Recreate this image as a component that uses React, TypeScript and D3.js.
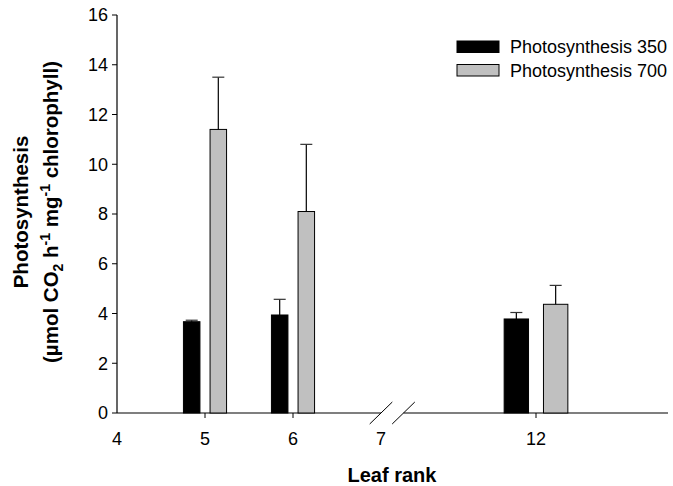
import * as d3 from 'd3'

const W = 673
const H = 486
const FONT = 'Liberation Sans, Arial, sans-serif'

// leaf ranks that carry bars, and the axis tick labels
const ranks = [5, 6, 12]
const xTicks = [4, 5, 6, 7, 12]
const series = ['Photosynthesis 350', 'Photosynthesis 700']
const p350 = [3.67, 3.94, 3.78]
const p350err = [0.06, 0.63, 0.26]
const p700 = [11.4, 8.1, 4.37]
const p700err = [2.1, 2.7, 0.76]
const yTicks = [0, 2, 4, 6, 8, 10, 12, 14, 16]
const colors = ['#000000', '#c0c0c0']

// broken axis: 4..7 evenly spaced, then a break, 12 drawn wider
const x = d3
  .scaleLinear()
  .domain([4, 7, 11.5, 12.5, 13.02])
  .range([117, 381, 471, 601, 668])
const y = d3.scaleLinear().domain([0, 16]).range([413, 15])

const GROUP = 0.245
const inner = d3.scaleBand().domain(series).paddingInner(0.38)

export default function App() {
  const values = [p350, p700]
  const errs = [p350err, p700err]
  const x0 = x.range()[0]
  const x1 = x.range()[x.range().length - 1]
  const y0 = y(0)
  const brk = [x(7), x(7) + 22.5]

  const bars = ranks.map((r, i) => {
    const local = inner.copy().range([x(r - GROUP), x(r + GROUP)])
    return (
      <g key={r}>
        {series.map((s, k) => {
          const bx = local(s) as number
          const bw = local.bandwidth()
          const v = values[k][i]
          const top = y(v)
          const cx = bx + bw / 2
          const ey = y(v + errs[k][i])
          return (
            <g key={s}>
              <rect x={bx} y={top} width={bw} height={y0 - top} fill={colors[k]} stroke="#000" strokeWidth={1} />
              <line x1={cx} x2={cx} y1={top} y2={ey} stroke="#000" strokeWidth={1.2} />
              <line x1={cx - 6} x2={cx + 6} y1={ey} y2={ey} stroke="#333" strokeWidth={1.2} />
            </g>
          )
        })}
      </g>
    )
  })

  return (
    <svg
      width={W}
      height={H}
      style={{position: 'absolute', left: 0, top: 0, background: '#fff'}}
      fontFamily={FONT}>
      {/* y axis */}
      <line x1={x0} x2={x0} y1={y(16)} y2={y0} stroke="#000" strokeWidth={1.2} />
      {yTicks.map(t => (
        <g key={t}>
          <line x1={x0 - 5} x2={x0} y1={y(t)} y2={y(t)} stroke="#000" strokeWidth={1} />
          <text x={x0 - 9} y={y(t)} dy="0.36em" textAnchor="end" fontSize={18}>
            {t}
          </text>
        </g>
      ))}

      {/* x axis with break */}
      <line x1={x0} x2={brk[0]} y1={y0} y2={y0} stroke="#000" strokeWidth={1.2} />
      <line x1={brk[1]} x2={x1} y1={y0} y2={y0} stroke="#000" strokeWidth={1.2} />
      {brk.map((b, i) => (
        <line key={i} x1={b - 11.3} x2={b + 11.3} y1={y0 + 11} y2={y0 - 11} stroke="#000" strokeWidth={1} />
      ))}
      {xTicks.map(t => (
        <g key={t}>
          {t !== 4 && t !== 7 && (
            <line x1={x(t)} x2={x(t)} y1={y0} y2={y0 + 5} stroke="#000" strokeWidth={1} />
          )}
          <text x={x(t)} y={y0 + 32} textAnchor="middle" fontSize={18}>
            {t}
          </text>
        </g>
      ))}

      {bars}

      {/* axis titles */}
      <text x={392} y={482} textAnchor="middle" fontSize={20} fontWeight="bold">
        Leaf rank
      </text>
      <g transform="translate(28,212) rotate(-90)" fontSize={20.5} fontWeight="bold">
        <text x={0} y={0} textAnchor="middle">
          Photosynthesis
        </text>
        <text x={0} y={30} textAnchor="middle">
          (µmol CO
          <tspan fontSize={14} dy={5}>2</tspan>
          <tspan dy={-5}> h</tspan>
          <tspan fontSize={14} dy={-8}>-1</tspan>
          <tspan dy={8}> mg</tspan>
          <tspan fontSize={14} dy={-8}>-1</tspan>
          <tspan dy={8}> chlorophyll)</tspan>
        </text>
      </g>

      {/* legend */}
      {series.map((s, k) => (
        <g key={s} transform={`translate(457,${41 + k * 23.5})`}>
          <rect x={0} y={0} width={42} height={11.5} fill={colors[k]} stroke="#000" strokeWidth={1} />
          <text x={53} y={12} fontSize={18}>
            {s}
          </text>
        </g>
      ))}
    </svg>
  )
}
